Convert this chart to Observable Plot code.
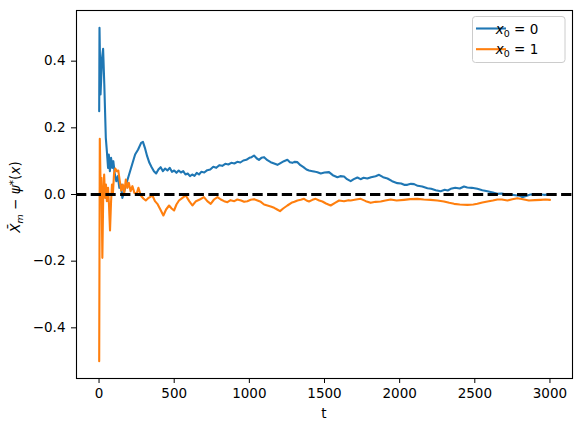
<!DOCTYPE html>
<html>
<head>
<meta charset="utf-8">
<script src="https://cdn.jsdelivr.net/npm/d3@7"></script>
<script src="https://cdn.jsdelivr.net/npm/@observablehq/plot@0.6"></script>
<style>
  html, body { margin: 0; padding: 0; background: #fff; }
  #chart { width: 581px; height: 432px; }
</style>
</head>
<body>
<div id="chart"></div>
<script>
// Series x0 = 0 (blue)
const tBlue = [1,3,10,20,27,35,45,52,60,65,72,80,88,95,105,115,125,135,145,155,165,180,200,220,240,260,280,292,305,320,335,350,365,380,395,410,425,440,455,470,485,500,515,530,545,560,575,590,605,620,635,650,665,680,700,720,740,760,780,800,820,840,860,880,900,920,940,960,980,1000,1015,1031,1050,1064,1080,1098,1120,1142,1165,1187,1210,1230,1253,1270,1286,1300,1320,1340,1360,1380,1397,1420,1440,1453,1475,1500,1530,1555,1586,1605,1630,1650,1674,1695,1719,1740,1760,1785,1810,1840,1863,1890,1919,1950,1985,2010,2030,2051,2075,2096,2120,2150,2185,2210,2240,2273,2300,2320,2340,2370,2400,2428,2450,2480,2517,2550,2584,2620,2650,2680,2710,2739,2770,2800,2816,2850,2870,2894,2930,2960,3000];
const vBlue = [0.25,0.5,0.30,0.41,0.437,0.33,0.17,0.13,0.08,0.12,0.07,0.11,0.08,0.10,0.06,0.04,0.055,0.02,0.03,-0.01,0.005,0.03,0.06,0.09,0.12,0.135,0.155,0.158,0.14,0.115,0.095,0.082,0.07,0.063,0.075,0.082,0.07,0.078,0.072,0.08,0.068,0.072,0.065,0.072,0.066,0.07,0.06,0.063,0.055,0.06,0.056,0.065,0.06,0.068,0.066,0.073,0.075,0.083,0.08,0.088,0.086,0.092,0.09,0.095,0.093,0.098,0.096,0.102,0.104,0.11,0.112,0.117,0.108,0.104,0.11,0.112,0.103,0.097,0.093,0.089,0.095,0.1,0.104,0.097,0.095,0.098,0.097,0.088,0.082,0.075,0.072,0.07,0.068,0.067,0.063,0.066,0.067,0.058,0.052,0.055,0.054,0.046,0.04,0.046,0.051,0.046,0.05,0.048,0.052,0.055,0.059,0.052,0.048,0.04,0.034,0.033,0.029,0.029,0.032,0.031,0.026,0.024,0.019,0.017,0.013,0.01,0.014,0.012,0.017,0.02,0.018,0.024,0.021,0.02,0.017,0.013,0.01,0.006,0.002,0.003,0.0,0.0,-0.002,-0.004,-0.008,-0.003,0.0,0.0,0.001,-0.001,0.0];

// Series x0 = 1 (orange)
const tOrange = [1,5,12,16,22,28,34,40,46,52,60,66,73,80,86,92,100,108,118,128,138,148,158,168,178,188,198,210,222,235,250,262,278,295,311,330,355,372,388,408,428,446,466,483,499,515,532,555,577,600,621,645,670,698,720,743,765,788,810,832,854,875,900,920,945,965,987,1009,1031,1054,1076,1098,1120,1142,1165,1185,1204,1225,1253,1280,1300,1320,1342,1364,1380,1397,1420,1441,1465,1486,1510,1541,1570,1597,1630,1660,1674,1710,1741,1775,1807,1840,1874,1905,1940,1980,2029,2070,2118,2160,2206,2250,2295,2330,2362,2400,2451,2490,2517,2550,2584,2620,2650,2680,2717,2750,2783,2820,2860,2900,2938,2970,3000];
const vOrange = [-0.5,0.167,-0.02,0.05,-0.19,0.0,0.06,-0.01,0.03,-0.02,0.02,-0.03,-0.108,-0.02,0.03,0.0,0.065,0.078,0.07,0.072,0.04,0.012,0.03,0.005,0.045,0.02,0.035,0.01,0.025,0.005,0.002,0.02,-0.003,-0.012,-0.018,-0.01,-0.003,-0.02,-0.028,-0.045,-0.063,-0.045,-0.033,-0.042,-0.048,-0.03,-0.018,-0.01,-0.003,-0.02,-0.033,-0.02,-0.015,-0.008,-0.02,-0.028,-0.015,-0.008,-0.015,-0.02,-0.023,-0.017,-0.02,-0.015,-0.018,-0.022,-0.02,-0.016,-0.014,-0.018,-0.022,-0.03,-0.033,-0.036,-0.04,-0.045,-0.05,-0.042,-0.033,-0.025,-0.022,-0.018,-0.016,-0.013,-0.018,-0.021,-0.016,-0.013,-0.018,-0.021,-0.027,-0.033,-0.025,-0.018,-0.02,-0.017,-0.018,-0.015,-0.013,-0.02,-0.025,-0.022,-0.021,-0.018,-0.015,-0.018,-0.016,-0.014,-0.013,-0.015,-0.016,-0.018,-0.021,-0.025,-0.028,-0.03,-0.031,-0.03,-0.028,-0.024,-0.021,-0.018,-0.015,-0.015,-0.018,-0.014,-0.011,-0.014,-0.018,-0.017,-0.016,-0.015,-0.016];

const xTicks = [0,500,1000,1500,2000,2500,3000];
const yTicks = [-0.4,-0.2,0.0,0.2,0.4];
const seriesNames = ["x0 = 0", "x0 = 1"];
const seriesColors = ["#1f77b4", "#ff7f0e"];

const blue = tBlue.map((t, i) => ({t, v: vBlue[i]}));
const orange = tOrange.map((t, i) => ({t, v: vOrange[i]}));

const font = "DejaVu Sans, sans-serif";
const chart = Plot.plot({
  width: 581,
  height: 432,
  marginLeft: 76,
  marginRight: 9,
  marginTop: 10,
  marginBottom: 54,
  style: {fontFamily: font, fontSize: "13.5px", color: "black", background: "white"},
  x: {domain: [-150, 3150], ticks: xTicks, tickFormat: d3.format("d"), tickSize: 5, tickPadding: 5, label: null},
  y: {domain: [-0.552, 0.552], ticks: yTicks, tickFormat: d3.format(".1f"), tickSize: 5, tickPadding: 6, label: null},
  marks: [
    Plot.line(blue, {x: "t", y: "v", stroke: seriesColors[0], strokeWidth: 2.1, strokeLinejoin: "round"}),
    Plot.line(orange, {x: "t", y: "v", stroke: seriesColors[1], strokeWidth: 2.1, strokeLinejoin: "round"}),
    Plot.ruleY([0], {stroke: "black", strokeWidth: 2.8, strokeDasharray: "10.3,4.4"}),
    Plot.frame({stroke: "black", strokeWidth: 1.1}),
    Plot.axisX({ticks: xTicks, tickFormat: d3.format("d"), tickSize: 5, tickPadding: 5, stroke: "black", label: null}),
    Plot.axisY({ticks: yTicks, tickFormat: d3.format(".1f"), tickSize: 5, tickPadding: 6, stroke: "black", label: null})
  ]
});

const svg = d3.select(chart);
// x-axis label
svg.append("text")
  .attr("x", 324).attr("y", 418)
  .attr("text-anchor", "middle")
  .style("font-family", font).style("font-size", "13.5px")
  .text("t");

// y-axis label
const yl = svg.append("text")
  .attr("transform", "translate(20,197) rotate(-90)")
  .attr("text-anchor", "middle")
  .style("font-family", font).style("font-size", "13.5px");
yl.append("tspan").style("font-style", "italic").text("X\u0304");
yl.append("tspan").attr("dy", 3).style("font-size", "9.5px").style("font-style", "italic").text("m");
yl.append("tspan").attr("dy", -3).text(" \u2212 ");
yl.append("tspan").style("font-style", "italic").text("\u03c8");
yl.append("tspan").attr("dy", -3).style("font-size", "11px").text("*");
yl.append("tspan").attr("dy", 3).text("(");
yl.append("tspan").style("font-style", "italic").text("x");
yl.append("tspan").text(")");

// legend
const lg = svg.append("g");
lg.append("rect")
  .attr("x", 472.5).attr("y", 16.5).attr("width", 92.5).attr("height", 46)
  .attr("rx", 3).attr("fill", "white").attr("fill-opacity", 0.8)
  .attr("stroke", "#cccccc").attr("stroke-width", 1);
seriesNames.forEach((name, i) => {
  const y = 28.5 + i * 20.7;
  lg.append("line")
    .attr("x1", 476).attr("x2", 506).attr("y1", y).attr("y2", y)
    .attr("stroke", seriesColors[i]).attr("stroke-width", 2.1);
  const tx = lg.append("text")
    .attr("x", 517).attr("y", y + 5)
    .style("font-family", font).style("font-size", "13.5px");
  const parts = name.split(" = ");
  tx.append("tspan").style("font-style", "italic").text(parts[0][0]);
  tx.append("tspan").attr("dy", 3).style("font-size", "9.5px").text(parts[0].slice(1));
  tx.append("tspan").attr("dy", -3).text(" = " + parts[1]);
});

document.getElementById("chart").appendChild(chart);
</script>
</body>
</html>
